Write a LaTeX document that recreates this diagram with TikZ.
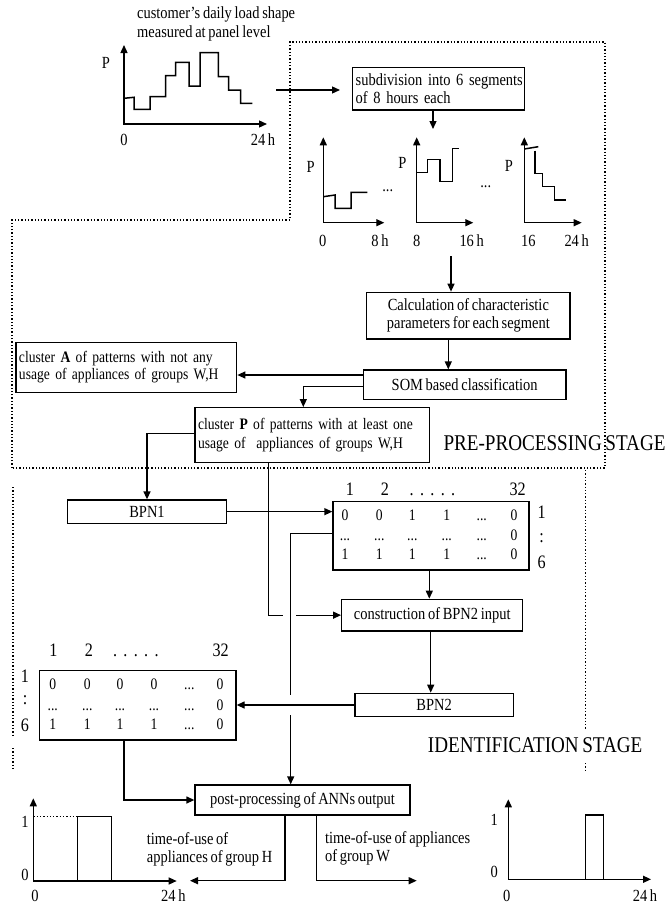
\documentclass[tikz,border=0pt]{standalone}
\usepackage{fontspec}
\setmainfont[FakeStretch=0.85,WordSpace=0.75]{Liberation Serif}
\usetikzlibrary{arrows.meta}
\newcommand\bxfont{\fontsize{17}{18.3}\selectfont}
\newcommand\cafont{\fontsize{16}{16.5}\selectfont}
\newcommand\cpfont{\fontsize{16}{18.3}\selectfont}
\newcommand\mxfont{\fontsize{16}{18}\selectfont}
\newcommand\hxfont{\fontsize{19}{20}\selectfont}
\newcommand\sxfont{\fontsize{22.5}{24}\selectfont}
\newcommand\axfont{\fontsize{17}{18}\selectfont}
\newcommand\mdots{.\kern0pt.\kern0pt.}
\begin{document}
\begin{tikzpicture}[x=1pt,y=-1pt,
  box/.style={draw, line width=1.3pt, inner sep=0pt, font=\bxfont, align=center},
  lbox/.style={draw, line width=1.3pt, inner ysep=0pt, inner xsep=3pt, font=\bxfont, align=left},
  arr/.style={line width=1.3pt, -{Triangle[length=8pt,width=7pt]}},
  axis/.style={line width=1.3pt, {Triangle[length=8pt,width=7pt]}-{Triangle[length=8pt,width=7pt]}},
  ln/.style={line width=1.3pt},
  curve/.style={line width=1.5pt},
  dotline/.style={line width=1.1pt, dash pattern=on 1.3pt off 2pt},
  txt/.style={inner sep=0pt, font=\bxfont, align=left},
  num/.style={inner sep=0pt, font=\mxfont, anchor=base},
  hdr/.style={inner sep=0pt, font=\hxfont, anchor=base},
  stage/.style={inner sep=0pt, font=\sxfont, anchor=west},
  lab/.style={inner sep=0pt, font=\axfont},
]
\useasboundingbox[fill=white] (0,0) rectangle (669,905);

% ---------- stage frames ----------
\draw[dotline] (12,468) -- (12,220) -- (290,220) -- (290,42) -- (605,42) -- (605,468) -- cycle;
\draw[dotline] (13,487) -- (13,735);
\draw[dotline] (13,748) -- (13,770);
\draw[dotline] (585.5,470) -- (585.5,730);
\draw[dotline] (585.5,763) -- (585.5,772);
\node[stage] (pre) at (443.3,442.7) {PRE-PROCESSING STAGE};
\node[stage] (ident) at (427.7,745) {IDENTIFICATION STAGE};

% ---------- daily load shape ----------
\node[txt, anchor=west] (title) at (137,24) {customer's daily load shape\\measured at panel level};
\draw[axis] (124,45) -- (124,124) -- (267,124);
\draw[curve] (124,98.3) -- (134,97.3) -- (134,109.3) -- (150,109.3) -- (150,96.7)
  -- (165.7,96.7) -- (165.7,75.7) -- (175.7,75.7) -- (175.7,62.3) -- (189,62.3)
  -- (189,86) -- (200,86) -- (200,52.7) -- (218.3,52.7) -- (218.3,76.7)
  -- (228.7,76.7) -- (228.7,90) -- (240.7,90) -- (240.7,103.3) -- (252.3,103.3);
\node[lab] (tP) at (106,63.3) {P};
\node[lab] (t0) at (124,140) {0};
\node[lab] (t24) at (263,140) {24 h};

% ---------- subdivision ----------
\node[lbox, text width=165.6pt, minimum height=42.7pt] (sub) at (438.5,88.65)
  {\mbox{subdivision into 6 segments}\\\mbox{of 8 hours each}};

% segment 0-8 h
\draw[axis] (323.3,137.3) -- (323.3,222.7) -- (384.3,222.7);
\draw[curve] (323.3,196.7) -- (335,195) -- (335,208.3) -- (351,208.3) -- (351,192.3) -- (367.3,192.3);
\node[lab] (s1P) at (310.7,166.7) {P};
\node[lab] (s1a) at (322.7,240.7) {0};
\node[lab] (s1b) at (380,240.7) {8 h};
\node[lab] (s1d) at (387.7,191) {\mdots};
% segment 8-16 h
\draw[axis] (416.7,137.3) -- (416.7,222.7) -- (473.3,222.7);
\draw[curve] (416.7,172.3) -- (427.7,172.3) -- (427.7,159.3) -- (440,159.3) -- (440,181.7)
  -- (452.7,181.7) -- (452.7,148.3) -- (459.3,148.3);
\node[lab] (s2P) at (402.3,163.3) {P};
\node[lab] (s2a) at (416.7,240.7) {8};
\node[lab] (s2b) at (471.7,240.7) {16 h};
\node[lab] (s2d) at (485.7,187) {\mdots};
% segment 16-24 h
\draw[axis] (524.3,137.3) -- (524.3,222.7) -- (581.7,222.7);
\draw[curve] (524.3,149) -- (538.3,146.7);
\draw[curve] (535,150.7) -- (535,173.3) -- (542.3,173.3) -- (542.3,186.7) -- (554.3,186.7)
  -- (554.3,200) -- (565.7,200);
\node[lab] (s3P) at (509,166) {P};
\node[lab] (s3a) at (528.3,240.7) {16};
\node[lab] (s3b) at (576.7,240.7) {24 h};

% ---------- classification ----------
\node[box, minimum width=203.3pt, minimum height=46.7pt] (calc) at (468.35,315.65)
  {Calculation of characteristic\\parameters for each segment};
\node[box, minimum width=202.7pt, minimum height=29.3pt] (som) at (464.65,384.65)
  {SOM based classification};
\node[lbox, font=\cafont, text width=214.7pt, minimum height=50pt] (clA) at (126.35,367.3)
  {\mbox{cluster \textbf{A} of patterns with not any}\\\mbox{usage of appliances of groups W,H}};
\node[lbox, font=\cpfont, text width=228.3pt, minimum height=54.6pt] (clP) at (312.15,435)
  {\mbox{cluster \textbf{P} of patterns with at least one}\\\mbox{usage of\ \ appliances of groups W,H}};

% ---------- identification ----------
\node[box, minimum width=159.4pt, minimum height=23.3pt] (bpn1) at (147,511.65) {BPN1};
\node[draw, line width=1.3pt, minimum width=196pt, minimum height=68.3pt, inner sep=0pt] (mat1) at (431,535.85) {};
\node[box, minimum width=181pt, minimum height=31.7pt] (cons) at (432.2,615.15) {construction of BPN2 input};
\node[box, minimum width=158.3pt, minimum height=23.4pt] (bpn2) at (434.15,705) {BPN2};
\node[draw, line width=1.3pt, minimum width=196.7pt, minimum height=69.3pt, inner sep=0pt] (mat2) at (137.65,705.35) {};
\node[box, minimum width=215pt, minimum height=30pt] (post) at (302.5,800) {post-processing of ANNs output};

% matrix of BPN1 output
\node[hdr] (m1h1) at (350,495.6) {1};
\node[hdr] (m1h2) at (385,495.6) {2};
\node[hdr] (m1hd) at (432.5,495.6) {.\,\,.\,\,.\,\,.\,\,.};
\node[hdr] (m1h32) at (517.7,495.6) {32};
\node[hdr] (m1s1) at (541.7,518) {1};
\node[hdr] (m1sc) at (541.7,542.5) {:};
\node[hdr] (m1s6) at (541.7,568) {6};
\foreach \x/\v [count=\c] in {345/0,379.3/0,412.3/1,446.7/1,481.7/\mdots,514/0}
  \node[num] (m1a\c) at (\x,520.5) {\v};
\foreach \x/\v [count=\c] in {345/\mdots,379.3/\mdots,412.3/\mdots,446.7/\mdots,481.7/\mdots,514/0}
  \node[num] (m1b\c) at (\x,540.5) {\v};
\foreach \x/\v [count=\c] in {345/1,379.3/1,412.3/1,446.7/1,481.7/\mdots,514/0}
  \node[num] (m1c\c) at (\x,559) {\v};

% matrix of BPN2 output
\node[hdr] (m2h1) at (53.3,656.3) {1};
\node[hdr] (m2h2) at (89,656.3) {2};
\node[hdr] (m2hd) at (135.8,656.3) {.\,\,.\,\,.\,\,.\,\,.};
\node[hdr] (m2h32) at (220.7,656.3) {32};
\node[hdr] (m2s1) at (25,682.3) {1};
\node[hdr] (m2sc) at (25,704.5) {:};
\node[hdr] (m2s6) at (25,731.3) {6};
\foreach \x/\v [count=\c] in {52.7/0,87.3/0,120/0,154/0,189.3/\mdots,220/0}
  \node[num] (m2a\c) at (\x,689.5) {\v};
\foreach \x/\v [count=\c] in {52.7/\mdots,87.3/\mdots,120/\mdots,154/\mdots,189.3/\mdots,220/0}
  \node[num] (m2b\c) at (\x,710.5) {\v};
\foreach \x/\v [count=\c] in {52.7/1,87.3/1,120/1,154/1,189.3/\mdots,220/0}
  \node[num] (m2c\c) at (\x,729) {\v};

% ---------- route points ----------
\coordinate (shapeOut) at (276,90);
\coordinate (shapeIn) at (340,90);
\coordinate (xSub) at (433,0);
\coordinate (segTop) at (433,129);
\coordinate (segOut) at (451,256);
\coordinate (xCalc) at (448.3,0);
\coordinate (lvlA) at (0,375);
\coordinate (lvlP) at (0,386.7);
\coordinate (xP) at (303.3,0);
\coordinate (lvlPL) at (0,433.3);
\coordinate (xPdown) at (268.3,0);
\coordinate (stubEnd) at (283,615.15);
\coordinate (stubRestart) at (296,615.15);
\coordinate (lvlM1) at (0,533.3);
\coordinate (m1gapTop) at (290.7,695);
\coordinate (m1gapBot) at (290.7,715);
\coordinate (xC) at (429.3,0);
\coordinate (xCo) at (430.7,0);
\coordinate (xM2) at (124,0);
\coordinate (xH) at (285,0);
\coordinate (xW) at (316.7,0);
\coordinate (endH) at (190,880.7);
\coordinate (endW) at (416.7,880.7);

% ---------- connectors ----------
\draw[arr] (shapeOut) -- (shapeIn);
\draw[arr] (sub.south -| xSub) -- (segTop);
\draw[arr] (segOut) -- (calc.north -| segOut);
\draw[arr] (calc.south -| xCalc) -- (som.north -| xCalc);
\draw[arr] (som.west |- lvlA) -- (clA.east |- lvlA);
\draw[arr] (som.west |- lvlP) -| (clP.north -| xP);
\draw[arr] (clP.west |- lvlPL) -| (bpn1.north);
\draw[ln] (clP.south -| xPdown) |- (stubEnd);
\draw[arr] (stubRestart) -- (cons.west);
\draw[arr] (bpn1.east) -- (mat1.west |- bpn1.east);
\draw[ln] (mat1.west |- lvlM1) -| (m1gapTop);
\draw[arr] (m1gapBot) -- (post.north -| m1gapBot);
\draw[arr] (mat1.south -| xC) -- (cons.north -| xC);
\draw[arr] (cons.south -| xCo) -- (bpn2.north -| xCo);
\draw[arr] (bpn2.west) -- (mat2.east |- bpn2.west);
\draw[arr] (mat2.south -| xM2) |- (post.west);
\draw[arr] (post.south -| xH) |- (endH);
\draw[arr] (post.south -| xW) |- (endW);

\node[txt, anchor=west] (useH) at (146.7,849.5) {time-of-use of\\appliances of group H};
\node[txt, anchor=west] (useW) at (325,848.5) {time-of-use of appliances\\of group W};

% ---------- output time-of-use charts ----------
\draw[axis] (33.3,798.3) -- (33.3,881) -- (176.7,881);
\draw[dotline] (33.3,816.7) -- (77.3,816.7);
\draw[curve] (77.3,881) -- (77.3,816.7) -- (111.7,816.7) -- (111.7,881);
\node[lab] (h1) at (25,821.7) {1};
\node[lab] (h0) at (25,875) {0};
\node[lab] (hx0) at (35,896) {0};
\node[lab] (hx24) at (173.3,896) {24 h};

\draw[axis] (508.3,799.3) -- (508.3,879.3) -- (651,879.3);
\draw[curve] (585.7,879.3) -- (585.7,815) -- (603.3,815) -- (603.3,879.3);
\node[lab] (w1) at (494.3,820) {1};
\node[lab] (w0) at (494.3,871.7) {0};
\node[lab] (wx0) at (506.7,896) {0};
\node[lab] (wx24) at (645,896) {24 h};
\end{tikzpicture}
\end{document}
